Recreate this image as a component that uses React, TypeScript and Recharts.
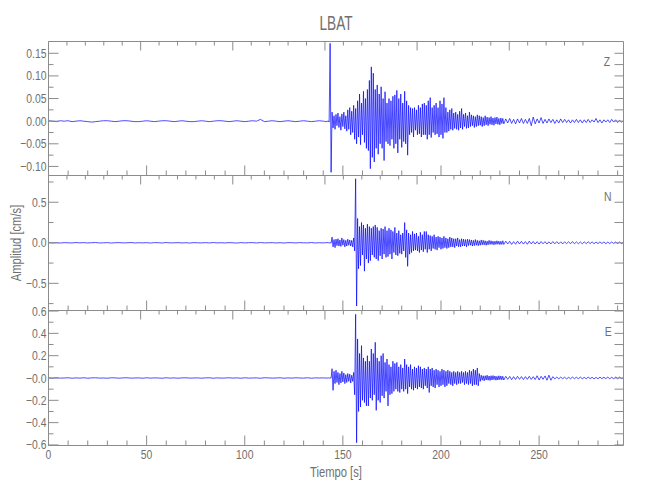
import React from 'react';
import { LineChart, Line, XAxis, YAxis } from 'recharts';

const TITLE = 'LBAT';
const X_LABEL = 'Tiempo [s]';
const Y_LABEL = 'Amplitud [cm/s]';
const CHANNELS = ['Z', 'N', 'E'];

// sampling of the hand-read values (seconds)
const PRE_START = 0;
const PRE_STEP = 2;
const MAIN_START = 142.5;
const MAIN_STEP = 0.5;
const TAIL_START = 233;
const TAIL_STEP = 1;

// ---------- Z component ----------
const zPre = [
  0.001, 0.0, -0.001, 0.001, 0.0, 0.001, -0.001, 0.0, 0.001, 0.0,
  -0.001, -0.002, -0.001, 0.0, 0.001, 0.001, 0.0, -0.001, 0.0, 0.001,
  0.001, 0.0, -0.001, -0.001, 0.0, 0.001, 0.0, -0.001, 0.0, 0.001,
  0.001, 0.0, -0.001, 0.0, 0.001, 0.0, -0.001, -0.001, 0.0, 0.001,
  0.0, -0.001, 0.0, 0.001, 0.001, 0.0, -0.001, 0.0, 0.001, 0.0,
  -0.001, 0.0, 0.001, 0.0, 0.004, -0.001, 0.0, 0.001, 0.0, -0.001,
  0.0, 0.001, 0.0, -0.001, 0.0, 0.001, 0.0, -0.001, 0.0, 0.001,
  0.0, -0.001,
];
const zMain = [
  0.001, -0.002, 0.172, -0.113, 0.02, -0.015, 0.012, -0.018, 0.015, -0.01,
  0.018, -0.014, 0.01, -0.02, 0.016, -0.012, 0.02, -0.017, 0.012, -0.022,
  0.025, -0.018, 0.03, -0.03, 0.022, -0.025, 0.035, -0.04, 0.028, -0.05,
  0.045, -0.035, 0.06, -0.052, 0.04, -0.03, 0.066, -0.047, 0.05, -0.06,
  0.07, -0.065, 0.09, -0.105, 0.12, -0.08, 0.106, -0.09, 0.07, -0.06,
  0.08, -0.073, 0.06, -0.05, 0.076, -0.06, 0.05, -0.087, 0.065, -0.045,
  0.04, -0.05, 0.05, -0.054, 0.045, -0.04, 0.055, -0.06, 0.058, -0.05,
  0.068, -0.07, 0.05, -0.04, 0.06, -0.058, 0.04, -0.045, 0.066, -0.05,
  0.045, -0.075, 0.035, -0.03, 0.03, -0.025, 0.028, -0.035, 0.03, -0.02,
  0.025, -0.03, 0.035, -0.028, 0.03, -0.035, 0.038, -0.03, 0.04, -0.03,
  0.035, -0.04, 0.045, -0.03, 0.052, -0.036, 0.03, -0.025, 0.035, -0.03,
  0.04, -0.028, 0.03, -0.035, 0.045, -0.03, 0.038, -0.038, 0.052, -0.025,
  0.03, -0.025, 0.02, -0.022, 0.025, -0.018, 0.028, -0.02, 0.018, -0.016,
  0.02, -0.018, 0.015, -0.02, 0.022, -0.015, 0.028, -0.018, 0.015, -0.012,
  0.018, -0.016, 0.012, -0.015, 0.02, -0.012, 0.014, -0.01, 0.012, -0.014,
  0.01, -0.012, 0.014, -0.01, 0.012, -0.009, 0.01, -0.012, 0.008, -0.01,
  0.012, -0.008, 0.009, -0.01, 0.008, -0.007, 0.01, -0.008, 0.007, -0.009,
  0.008, -0.006, 0.009, -0.007, 0.006, -0.008, 0.007, -0.005, 0.006, -0.006,
];
const zTail = [
  0.005, -0.004, 0.006, -0.005, 0.004, -0.006, 0.005, -0.004, 0.006, -0.005,
  0.004, -0.005, 0.006, -0.01, 0.009, -0.006, 0.005, -0.004, 0.008, -0.005,
  0.004, -0.004, 0.005, -0.003, 0.004, -0.005, 0.003, -0.004, 0.005, -0.003,
  0.004, -0.003, 0.003, -0.004, 0.003, -0.003, 0.004, -0.003, 0.003, -0.004,
  0.003, -0.003, 0.004, -0.003, 0.003, -0.002, 0.006, -0.003, 0.003, -0.004,
  0.003, -0.002, 0.003, -0.003, 0.004, -0.002, 0.003, -0.003, 0.002, -0.002,
  0.001,
];

// ---------- N component ----------
const nPre = [
  0.002, -0.002, 0.001, -0.003, 0.002, 0.0, -0.002, 0.003, -0.001, 0.002,
  -0.002, 0.001, 0.003, -0.002, 0.0, 0.002, -0.003, 0.001, 0.002, -0.001,
  0.0, 0.003, -0.002, 0.001, -0.001, 0.002, -0.003, 0.002, 0.001, -0.002,
  0.003, -0.001, 0.0, 0.002, -0.002, 0.001, -0.003, 0.002, 0.0, -0.001,
  0.002, -0.002, 0.003, -0.001, 0.001, -0.002, 0.002, 0.0, -0.003, 0.002,
  -0.001, 0.001, 0.002, -0.002, 0.003, -0.001, 0.0, 0.002, -0.002, 0.001,
  -0.003, 0.002, 0.001, -0.002, 0.002, 0.0, -0.001, 0.003, -0.002, 0.001,
  -0.001, 0.002,
];
const nMain = [
  0.003, -0.003, 0.002, -0.004, 0.07, -0.05, 0.04, -0.06, 0.045, -0.035,
  0.05, -0.04, 0.035, -0.045, 0.06, -0.03, 0.04, -0.05, 0.03, -0.04,
  0.045, -0.03, 0.035, -0.04, 0.03, -0.05, 0.06, -0.1, 0.79, -0.78,
  0.3, -0.32, 0.2, -0.28, 0.25, -0.15, 0.22, -0.35, 0.18, -0.2,
  0.23, -0.25, 0.2, -0.22, 0.18, -0.15, 0.2, -0.18, 0.22, -0.2,
  0.19, -0.22, 0.15, -0.16, 0.18, -0.2, 0.17, -0.14, 0.2, -0.18,
  0.15, -0.17, 0.18, -0.14, 0.16, -0.2, 0.14, -0.12, 0.19, -0.15,
  0.12, -0.16, 0.15, -0.13, 0.1, -0.14, 0.12, -0.1, 0.25, -0.18,
  0.16, -0.29, 0.12, -0.14, 0.1, -0.12, 0.14, -0.1, 0.11, -0.09,
  0.12, -0.1, 0.08, -0.12, 0.13, -0.09, 0.1, -0.11, 0.14, -0.08,
  0.14, -0.12, 0.1, -0.08, 0.09, -0.1, 0.08, -0.07, 0.1, -0.08,
  0.07, -0.09, 0.08, -0.06, 0.07, -0.08, 0.06, -0.07, 0.08, -0.06,
  0.06, -0.07, 0.05, -0.06, 0.07, -0.05, 0.06, -0.05, 0.05, -0.06,
  0.05, -0.04, 0.06, -0.05, 0.04, -0.05, 0.05, -0.04, 0.045, -0.04,
  0.04, -0.05, 0.045, -0.035, 0.04, -0.03, 0.035, -0.04, 0.03, -0.035,
  0.04, -0.03, 0.03, -0.035, 0.025, -0.03, 0.035, -0.025, 0.03, -0.025,
  0.025, -0.03, 0.02, -0.025, 0.03, -0.02, 0.025, -0.02, 0.02, -0.025,
  0.02, -0.02, 0.025, -0.018, 0.02, -0.022, 0.018, -0.02, 0.025, -0.02,
];
const nTail = [
  0.02, -0.015, 0.018, -0.02, 0.015, -0.018, 0.02, -0.015, 0.018, -0.016,
  0.015, -0.018, 0.02, -0.014, 0.016, -0.015, 0.014, -0.016, 0.015, -0.012,
  0.014, -0.015, 0.012, -0.014, 0.016, -0.012, 0.014, -0.013, 0.012, -0.014,
  0.012, -0.011, 0.013, -0.012, 0.015, -0.012, 0.011, -0.012, 0.01, -0.012,
  0.011, -0.01, 0.012, -0.01, 0.011, -0.012, 0.01, -0.01, 0.011, -0.009,
  0.01, -0.011, 0.009, -0.01, 0.01, -0.009, 0.01, -0.01, 0.009, -0.01,
  0.005,
];

// ---------- E component ----------
const ePre = [
  0.001, -0.002, 0.002, -0.001, 0.0, 0.002, -0.002, 0.001, -0.001, 0.002,
  -0.002, 0.001, 0.002, -0.001, 0.0, -0.002, 0.002, 0.001, -0.002, 0.001,
  0.002, -0.001, 0.0, 0.001, -0.002, 0.002, -0.001, 0.001, 0.0, -0.002,
  0.002, -0.001, 0.001, -0.002, 0.001, 0.002, -0.001, 0.0, 0.001, -0.002,
  0.001, 0.002, -0.002, 0.001, -0.001, 0.0, 0.002, -0.001, 0.001, -0.002,
  0.002, -0.001, 0.0, 0.001, -0.002, 0.002, 0.001, -0.001, 0.0, 0.002,
  -0.002, 0.001, -0.001, 0.002, 0.0, -0.001, 0.002, -0.002, 0.001, 0.0,
  0.001, -0.001,
];
const eMain = [
  0.002, -0.003, 0.003, -0.002, 0.083, -0.11, 0.06, -0.05, 0.07, -0.04,
  0.05, -0.06, 0.04, -0.045, 0.06, -0.035, 0.045, -0.05, 0.03, -0.04,
  0.04, -0.03, 0.035, -0.045, 0.025, -0.03, 0.05, -0.15, 0.57, -0.58,
  0.35, -0.3, 0.22, -0.26, 0.29, -0.2, 0.18, -0.22, 0.15, -0.25,
  0.2, -0.25, 0.15, -0.18, 0.26, -0.2, 0.22, -0.15, 0.32, -0.29,
  0.18, -0.2, 0.15, -0.22, 0.2, -0.16, 0.22, -0.18, 0.14, -0.12,
  0.17, -0.25, 0.12, -0.15, 0.1, -0.14, 0.15, -0.12, 0.13, -0.1,
  0.14, -0.12, 0.1, -0.13, 0.12, -0.1, 0.09, -0.12, 0.17, -0.1,
  0.12, -0.14, 0.1, -0.08, 0.12, -0.1, 0.08, -0.11, 0.1, -0.09,
  0.09, -0.1, 0.11, -0.08, 0.1, -0.09, 0.08, -0.1, 0.09, -0.07,
  0.08, -0.09, 0.1, -0.13, 0.08, -0.07, 0.09, -0.08, 0.07, -0.09,
  0.08, -0.06, 0.07, -0.08, 0.06, -0.07, 0.08, -0.06, 0.07, -0.08,
  0.06, -0.07, 0.07, -0.05, 0.06, -0.06, 0.05, -0.07, 0.06, -0.05,
  0.05, -0.06, 0.06, -0.05, 0.05, -0.05, 0.06, -0.04, 0.05, -0.06,
  0.06, -0.05, 0.05, -0.06, 0.07, -0.05, 0.06, -0.07, 0.08, -0.06,
  0.07, -0.06, 0.09, -0.07, 0.04, -0.03, 0.025, -0.02, 0.02, -0.025,
  0.02, -0.018, 0.025, -0.02, 0.018, -0.022, 0.02, -0.018, 0.022, -0.015,
  0.018, -0.02, 0.015, -0.018, 0.02, -0.015, 0.018, -0.016, 0.015, -0.018,
];
const eTail = [
  0.015, -0.012, 0.014, -0.015, 0.012, -0.013, 0.015, -0.012, 0.013, -0.014,
  0.012, -0.012, 0.015, -0.013, 0.012, -0.014, 0.02, -0.018, 0.015, -0.012,
  0.018, -0.02, 0.025, -0.02, 0.012, -0.008, 0.008, -0.007, 0.008, -0.006,
  0.007, -0.008, 0.006, -0.007, 0.008, -0.006, 0.007, -0.006, 0.008, -0.007,
  0.006, -0.007, 0.008, -0.006, 0.007, -0.008, 0.006, -0.007, 0.008, -0.006,
  0.007, -0.006, 0.008, -0.007, 0.006, -0.008, 0.01, -0.007, 0.008, -0.006,
  0.004,
];

// ---------- axes ----------
const X_DOMAIN = [0, 293];
const xTicks = [0, 10, 20, 30, 40, 50, 60, 70, 80, 90, 100, 110, 120, 130, 140, 150, 160, 170, 180, 190, 200, 210, 220, 230, 240, 250, 260, 270, 280, 290];
const xMajorTicks = [0, 50, 100, 150, 200, 250];

const zDomain = [-0.12, 0.176];
const zMajorTicks = [-0.1, -0.05, 0, 0.05, 0.1, 0.15];
const zMinorTicks = [-0.075, -0.025, 0.025, 0.075, 0.125];
const nDomain = [-0.835, 0.83];
const nMajorTicks = [-0.5, 0, 0.5];
const nMinorTicks = [-0.75, -0.25, 0.25, 0.75];
const eDomain = [-0.605, 0.605];
const eMajorTicks = [-0.6, -0.4, -0.2, 0, 0.2, 0.4, 0.6];
const eMinorTicks = [-0.5, -0.3, -0.1, 0.1, 0.3, 0.5];

const FONT = "'Liberation Sans', Arial, sans-serif";
const AXIS = '#8c8c8c';
const TEXT = '#707070';
const TRACE = '#0000ff';
const SQUEEZE = 0.8;

function buildSeries(pre: number[], main: number[], tail: number[]) {
  const out: { t: number; v: number }[] = [];
  pre.forEach((v, i) => out.push({ t: PRE_START + i * PRE_STEP, v }));
  main.forEach((v, i) => out.push({ t: MAIN_START + i * MAIN_STEP, v }));
  tail.forEach((v, i) => out.push({ t: TAIL_START + i * TAIL_STEP, v }));
  return out;
}

const isIn = (v: number, arr: number[]) => arr.some((a) => Math.abs(a - v) < 1e-9);
const minus = (s: string) => s.replace('-', '\u2212');

const fmtZ = (v: number) => minus(v.toFixed(2));
const fmtN = (v: number) => minus(Math.abs(v) < 1e-9 ? '0.0' : v.toFixed(1));
const fmtE = (v: number) => minus(Math.abs(v) < 1e-9 ? '-0.0' : v.toFixed(1));

const makeLeftTick = (majors: number[], fmt: (v: number) => string) => (p: any) => {
  const major = isIn(p.payload.value, majors);
  return (
    <g>
      <line x1={p.x} y1={p.y} x2={p.x + (major ? 10 : 5)} y2={p.y} stroke={AXIS} strokeWidth={1} />
      {major && (
        <text
          transform={`translate(${p.x - 2} ${p.y}) scale(${SQUEEZE} 1)`}
          x={0}
          y={0}
          dy={4.5}
          textAnchor="end"
          fill={TEXT}
          fontSize={13}
          fontFamily={FONT}
        >
          {fmt(p.payload.value)}
        </text>
      )}
    </g>
  );
};
const rightTick = (p: any) => (
  <line x1={p.x} y1={p.y} x2={p.x - 9} y2={p.y} stroke={AXIS} strokeWidth={1} />
);
const topTick = (p: any) => {
  const major = isIn(p.payload.value, xMajorTicks);
  return <line x1={p.x} y1={p.y} x2={p.x} y2={p.y + (major ? 9 : 4)} stroke={AXIS} strokeWidth={1} />;
};
const makeBottomTick = (labels: boolean) => (p: any) => {
  const major = isIn(p.payload.value, xMajorTicks);
  return (
    <g>
      <line x1={p.x} y1={p.y} x2={p.x} y2={p.y - (major ? 10 : 5)} stroke={AXIS} strokeWidth={1} />
      {labels && major && (
        <text
          transform={`translate(${p.x} ${p.y + 13}) scale(${SQUEEZE} 1)`}
          x={0}
          y={0}
          textAnchor="middle"
          fill={TEXT}
          fontSize={13}
          fontFamily={FONT}
        >
          {p.payload.value}
        </text>
      )}
    </g>
  );
};

const PAD = 8;

type PanelProps = {
  top: number;
  height: number;
  bottomAxis: number;
  data: { t: number; v: number }[];
  domain: number[];
  majors: number[];
  minors: number[];
  fmt: (v: number) => string;
  labels: boolean;
};

function Panel({ top, height, bottomAxis, data, domain, majors, minors, fmt, labels }: PanelProps) {
  return (
    <div style={{ position: 'absolute', left: 0, top: top - PAD }}>
      <LineChart width={650} height={height + PAD} data={data} margin={{ top: PAD, right: 0, bottom: 0, left: 0 }}>
        <XAxis
          xAxisId="b"
          dataKey="t"
          type="number"
          orientation="bottom"
          domain={X_DOMAIN}
          allowDataOverflow
          ticks={xTicks}
          interval={0}
          height={bottomAxis}
          tickSize={0}
          tickMargin={0}
          tickLine={false}
          axisLine={{ stroke: AXIS }}
          tick={makeBottomTick(labels)}
        />
        <XAxis
          xAxisId="t"
          type="number"
          orientation="top"
          domain={X_DOMAIN}
          allowDataOverflow
          ticks={xTicks}
          interval={0}
          height={1.5}
          tickSize={0}
          tickMargin={0}
          tickLine={false}
          axisLine={{ stroke: AXIS }}
          tick={topTick}
        />
        <YAxis
          yAxisId="l"
          type="number"
          orientation="left"
          domain={domain}
          allowDataOverflow
          ticks={[...majors, ...minors]}
          interval={0}
          width={48.5}
          tickSize={0}
          tickMargin={0}
          tickLine={false}
          axisLine={{ stroke: AXIS }}
          tick={makeLeftTick(majors, fmt)}
        />
        <YAxis
          yAxisId="r"
          type="number"
          orientation="right"
          domain={domain}
          allowDataOverflow
          ticks={[...majors, ...minors]}
          interval={0}
          width={26.5}
          tickSize={0}
          tickMargin={0}
          tickLine={false}
          axisLine={{ stroke: AXIS }}
          tick={rightTick}
        />
        <Line
          xAxisId="b"
          yAxisId="l"
          dataKey="v"
          type="linear"
          stroke={TRACE}
          strokeWidth={0.7}
          dot={false}
          activeDot={false}
          isAnimationActive={false}
        />
      </LineChart>
    </div>
  );
}

const zData = buildSeries(zPre, zMain, zTail);
const nData = buildSeries(nPre, nMain, nTail);
const eData = buildSeries(ePre, eMain, eTail);

const textBase: React.CSSProperties = {
  position: 'absolute',
  fontFamily: FONT,
  color: TEXT,
  whiteSpace: 'nowrap',
};

export default function App() {
  return (
    <div style={{ position: 'absolute', left: 0, top: 0, width: 650, height: 500, background: '#fff', fontFamily: FONT }}>
      <Panel top={40} height={137} bottomAxis={1.5} data={zData} domain={zDomain} majors={zMajorTicks} minors={zMinorTicks} fmt={fmtZ} labels={false} />
      <Panel top={174} height={138} bottomAxis={1.5} data={nData} domain={nDomain} majors={nMajorTicks} minors={nMinorTicks} fmt={fmtN} labels={false} />
      <Panel top={309} height={167} bottomAxis={30.5} data={eData} domain={eDomain} majors={eMajorTicks} minors={eMinorTicks} fmt={fmtE} labels={true} />

      <div
        style={{
          ...textBase,
          left: 236,
          width: 200,
          top: 12,
          textAlign: 'center',
          fontSize: 21,
          lineHeight: '21px',
          transform: 'scaleX(0.65)',
        }}
      >
        {TITLE}
      </div>
      <div
        style={{
          ...textBase,
          left: 236,
          width: 200,
          top: 465,
          textAlign: 'center',
          fontSize: 14,
          lineHeight: '14px',
          transform: 'scaleX(0.8)',
        }}
      >
        {X_LABEL}
      </div>
      <div
        style={{
          ...textBase,
          left: -44,
          width: 120,
          top: 235,
          height: 16,
          textAlign: 'center',
          fontSize: 14,
          lineHeight: '16px',
          transform: 'rotate(-90deg) scaleX(0.8)',
        }}
      >
        {Y_LABEL}
      </div>
      <div style={{ ...textBase, left: 603, top: 55, fontSize: 13, lineHeight: '13px', transform: 'scaleX(0.8)' }}>{CHANNELS[0]}</div>
      <div style={{ ...textBase, left: 603, top: 190, fontSize: 13, lineHeight: '13px', transform: 'scaleX(0.8)' }}>{CHANNELS[1]}</div>
      <div style={{ ...textBase, left: 604, top: 325, fontSize: 13, lineHeight: '13px', transform: 'scaleX(0.8)' }}>{CHANNELS[2]}</div>
    </div>
  );
}
